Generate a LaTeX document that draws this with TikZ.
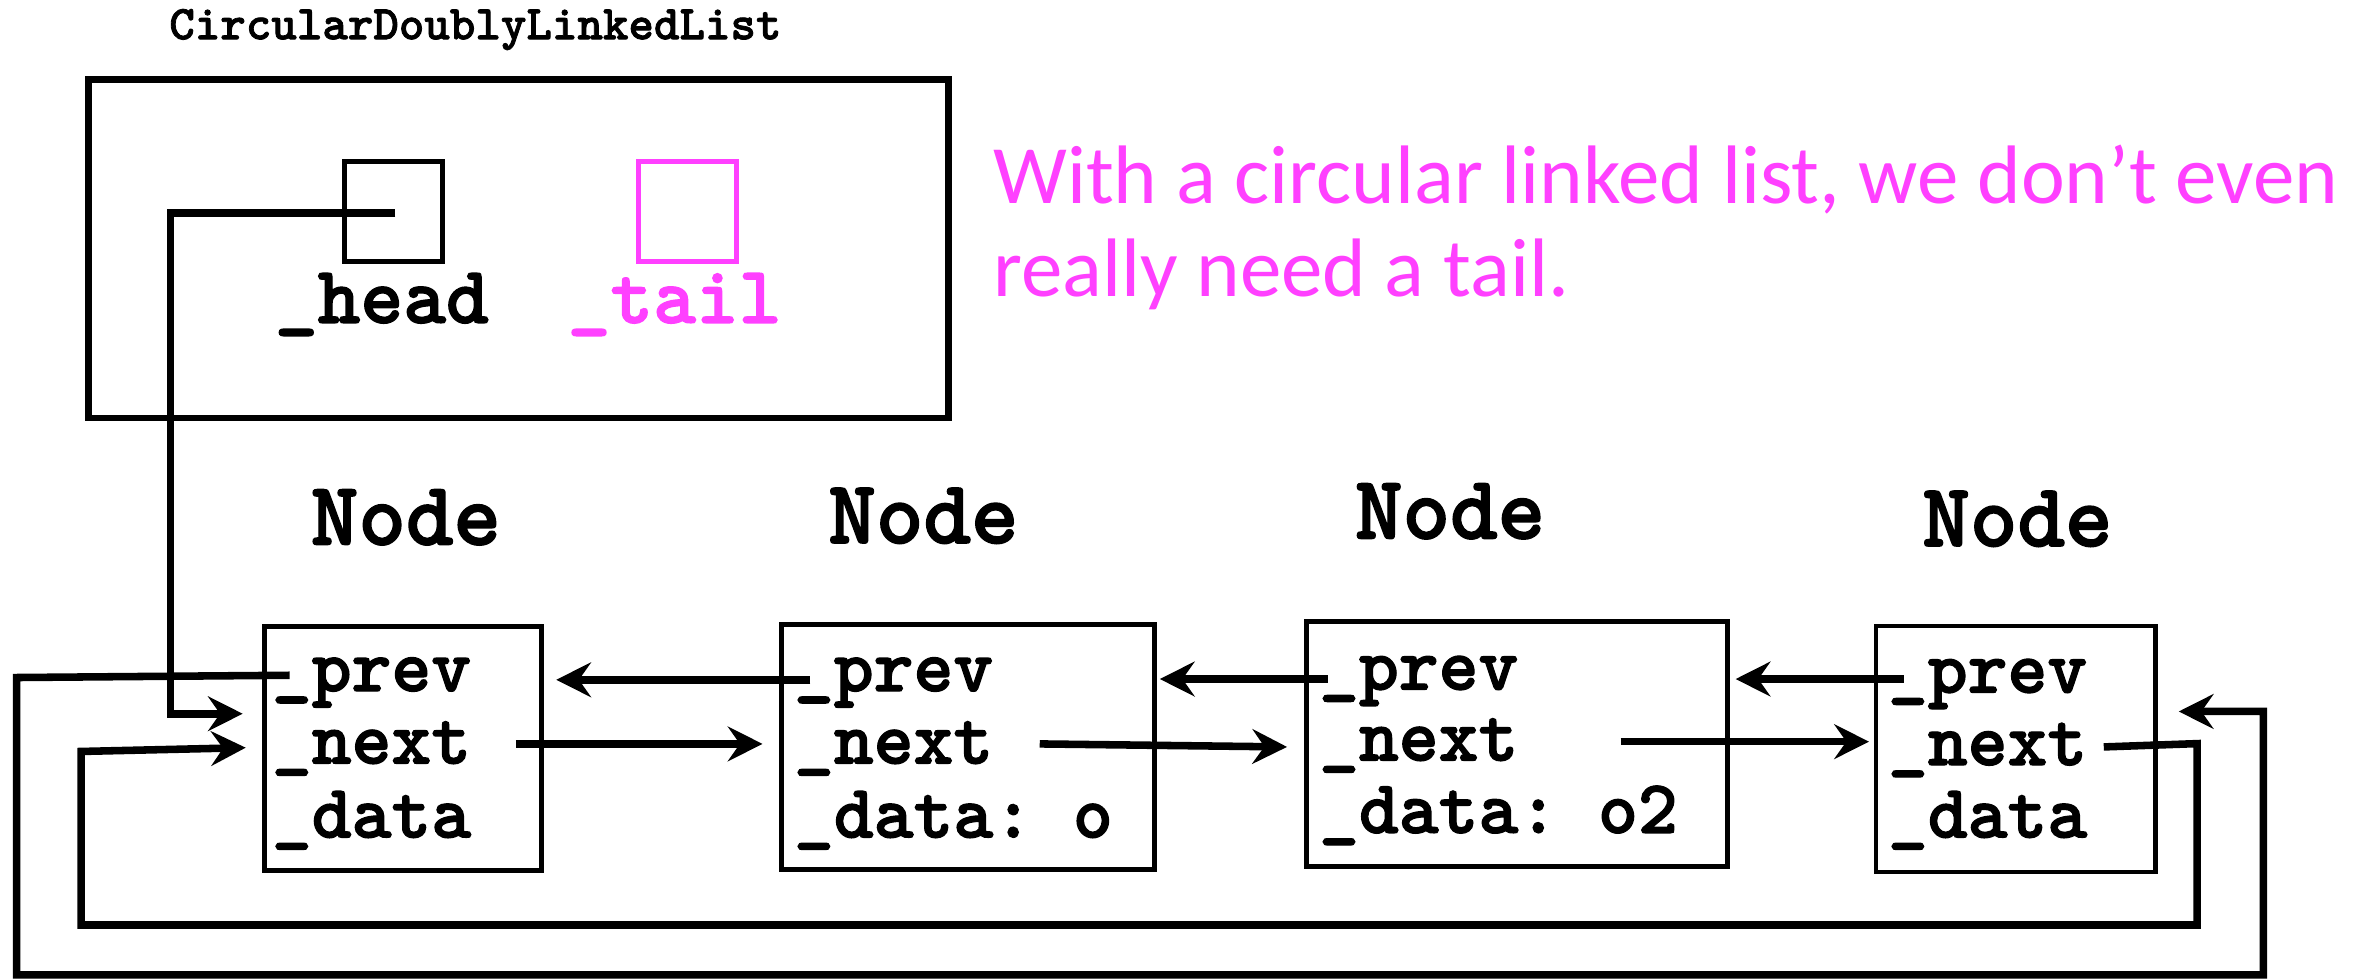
\documentclass[tikz,border=0pt]{standalone}
\usepackage{fontspec}
\usetikzlibrary{arrows.meta,calc}
\newfontfamily\gill{Carlito}
\newfontfamily\courfam{lmmonolt10-bold.otf}[FakeBold=1.6]
\definecolor{mag}{RGB}{255,64,255}
\newcommand{\cour}{\courfam\frenchspacing}
\tikzset{
  arr/.style={line width=5pt,-{Stealth[length=23pt,width=23pt,inset=8pt]}},
  nodebox/.style={draw,line width=3.3pt,inner sep=0pt,rectangle},
  field/.style={font=\cour\fontsize{50.3}{54}\selectfont,inner sep=0pt,anchor=base west},
  nodelbl/.style={font=\cour\fontsize{60}{64}\selectfont,inner sep=0pt,anchor=base},
  ptrlbl/.style={font=\cour\fontsize{54}{58}\selectfont,inner sep=0pt,anchor=base west},
  note/.style={font=\gill\fontsize{55}{62}\selectfont,text=mag,inner sep=0pt,anchor=base west}
}
\begin{document}
\begin{tikzpicture}[x=1pt,y=-1pt]
\useasboundingbox (0,0) rectangle (1568,649);
% title and list object
\node[inner sep=0pt,anchor=base west,font=\cour\fontsize{32.2}{34}\selectfont] (title) at (112,26) {CircularDoublyLinkedList};
\node[draw,line width=4.5pt,inner sep=0pt,minimum width=570,minimum height=224.5] (cdll) at (343.5,164.75) {};
\node[draw,line width=3.3pt,inner sep=0pt,minimum width=65,minimum height=66] (hb) at (260.5,140) {};
\node[draw=mag,line width=3.3pt,inner sep=0pt,minimum width=65,minimum height=66] (tb) at (455.5,140) {};
\node[ptrlbl] (headlbl) at (182,214) {\_head};
\node[ptrlbl,text=mag] (taillbl) at (376,214) {\_tail};
% note
\node[note] (note1) at (658,134.7) {With a circular linked list, we don’t even};
\node[note] (note2) at (658,196.6) {really need a tail.};
% node labels
\node[nodelbl] (l1) at (269,361) {Node};
\node[nodelbl] (l2) at (612,360) {Node};
\node[nodelbl] (l3) at (961,357) {Node};
\node[nodelbl] (l4) at (1337,362) {Node};
% node boxes
\node[nodebox,minimum width=184,minimum height=162] (n1) at (267,496) {};
\node[nodebox,minimum width=247,minimum height=162] (n2) at (641.5,495) {};
\node[nodebox,minimum width=279,minimum height=162] (n3) at (1005.5,493) {};
\node[nodebox,line width=2.8pt,minimum width=185,minimum height=163] (n4) at (1336,496.5) {};
% fields
\node[field] (n1prev) at (180,458) {\_prev};
\node[field] (n1next) at (180,506) {\_next};
\node[field] (n1data) at (180,555) {\_data};
\node[field] (n2prev) at (526,458) {\_prev};
\node[field] (n2next) at (526,506) {\_next};
\node[field] (n2data) at (526,555) {\_data: o};
\node[field] (n3prev) at (874,457) {\_prev};
\node[field] (n3next) at (874,504) {\_next};
\node[field] (n3data) at (874,552) {\_data: o2};
\node[field] (n4prev) at (1251,459) {\_prev};
\node[field] (n4next) at (1251,507) {\_next};
\node[field] (n4data) at (1251,555) {\_data};
% corners of the routed connectors
\coordinate (hc1) at (113,141);
\coordinate (hc2) at (113,473);
\coordinate (nc1) at (1456,492.8);
\coordinate (nc2) at (1456,613);
\coordinate (nc3) at (53.7,613);
\coordinate (nc4) at (53.7,498);
\coordinate (pc1) at (11,449);
\coordinate (pc2) at (11,646);
\coordinate (pc3) at (1500,646);
\coordinate (pc4) at (1500,471.5);
% head pointer
\draw[arr] ($(hb.center)+(1.5,1)$) -- (hc1) -- (hc2) -- ($(n1.west |- hc2)+(-12.5,0)$);
% prev pointers
\draw[arr] ($(n2prev.base west)+(11,-7.5)$) -- ($(n1.east |- n2prev.base)+(8,-7.5)$);
\draw[arr] ($(n3prev.base west)+(6,-7)$) -- ($(n2.east |- n3prev.base)+(2,-7)$);
\draw[arr] ($(n4prev.base west)+(10.6,-9)$) -- ($(n3.east |- n4prev.base)+(3.6,-9)$);
% next pointers
\draw[arr] ($(n1.west |- n1next.base)+(168.5,-13)$) -- ($(n2.west |- n1next.base)+(-11,-13)$);
\draw[arr] ($(n2.west |- n2next.base)+(172.7,-13)$) -- ($(n3.west |- n2next.base)+(-11.4,-11)$);
\draw[arr] ($(n3.west |- n3next.base)+(209.6,-12.5)$) -- ($(n4.west |- n3next.base)+(-3.5,-12.5)$);
% circular links
\draw[arr] ($(n4.west |- n4next.base)+(152.1,-12)$) -- (nc1) -- (nc2) -- (nc3) -- (nc4) -- ($(n1.west)+(-10.5,-0.5)$);
\draw[arr] ($(n1prev.base west)+(12,-10.5)$) -- (pc1) -- (pc2) -- (pc3) -- (pc4) -- ($(n4.east |- pc4)+(14,0)$);
\end{tikzpicture}
\end{document}
